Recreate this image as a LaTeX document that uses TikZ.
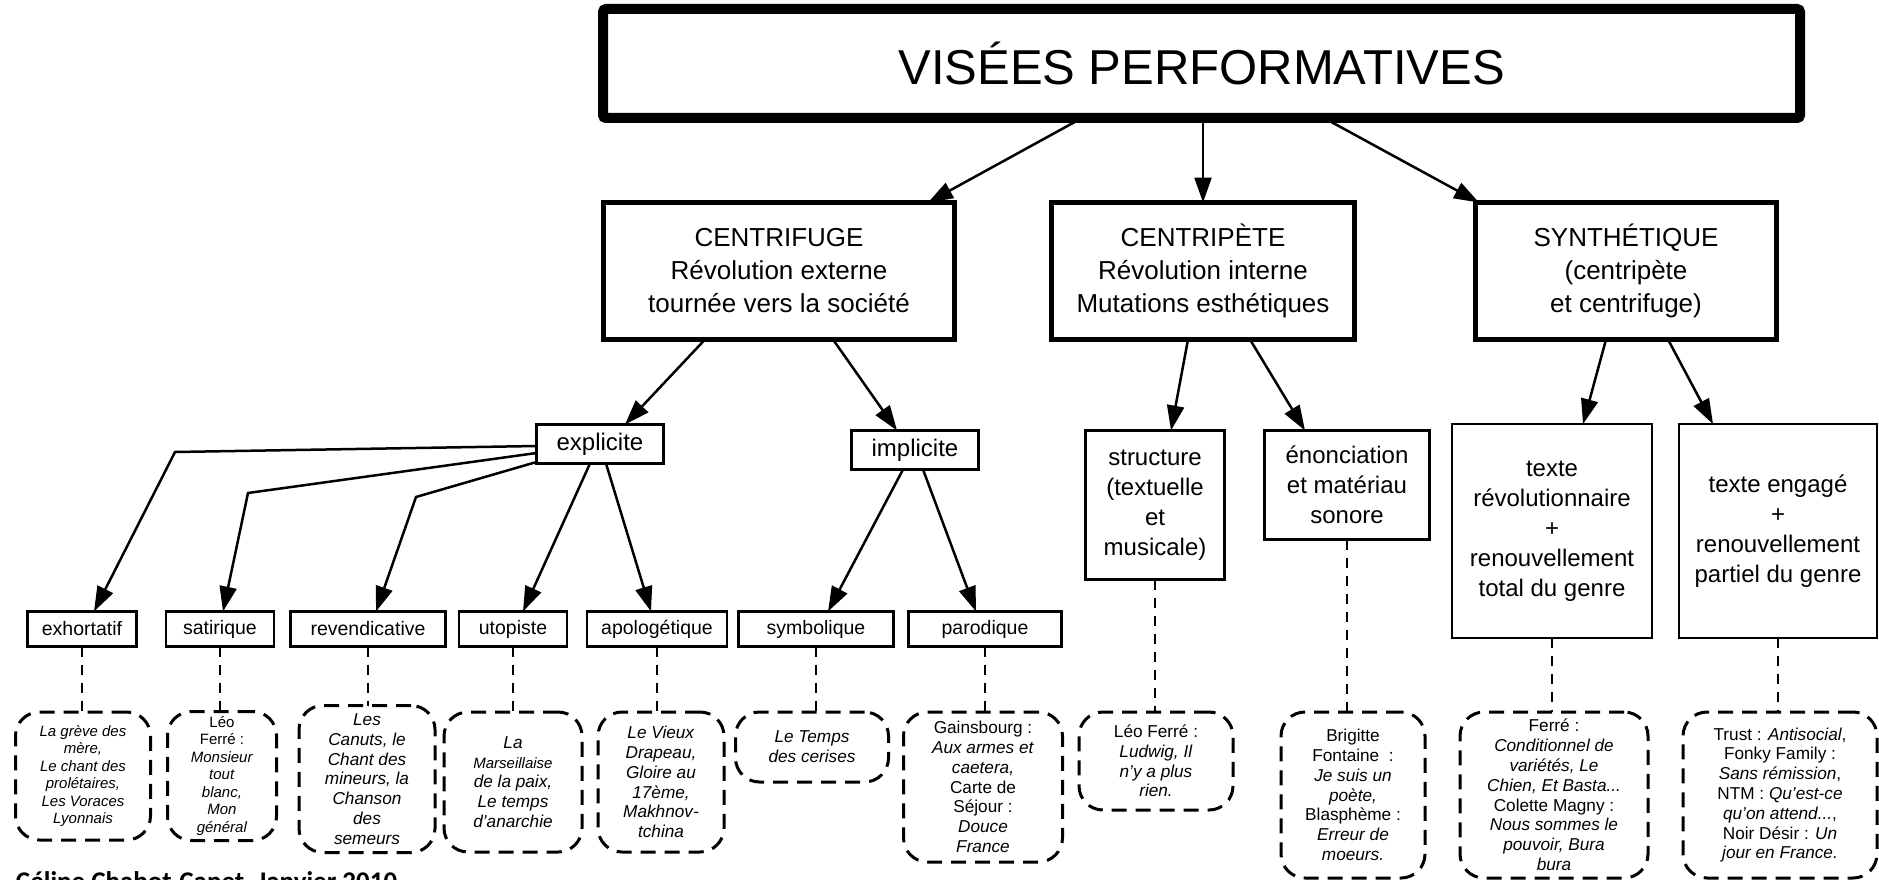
\documentclass[tikz,border=0pt]{standalone}
\usepackage{fontspec}
\setmainfont{Liberation Sans}
\newfontfamily\sigfont{Carlito}
\usetikzlibrary{arrows.meta,calc}
\begin{document}
\begin{tikzpicture}[x=1pt,y=-1pt,
  every node/.style={inner sep=0pt, outer sep=0pt, align=center},
  topbox/.style={draw, line width=10pt, rounded corners=3pt, minimum width=1197pt, minimum height=109pt, font=\fontsize{49}{56}\selectfont},
  mainbox/.style={draw, line width=5pt, minimum height=137pt, font=\fontsize{26}{33}\selectfont},
  midbox/.style={draw, line width=2.5pt, font=\fontsize{24}{30}\selectfont},
  leafbox/.style={draw, line width=2.5pt, minimum height=35pt, font=\fontsize{19.5}{23}\selectfont},
  exbox/.style={draw, dash pattern=on 15pt off 9pt, line width=3pt, rounded corners=24pt},
  exsmall/.style={exbox, font=\fontsize{15}{17.5}\selectfont},
  exlarge/.style={exbox, font=\fontsize{17.2}{19.8}\selectfont},
  arr/.style={line width=2.5pt, -{Triangle[length=25pt,width=17pt]}},
  dline/.style={line width=2pt, dash pattern=on 10pt off 8pt},
]
\useasboundingbox (0,0) rectangle (1879,880);

% top
\node[topbox] (top) at (1201.5,63.5) {VISÉES PERFORMATIVES};

% level 2
\node[mainbox, minimum width=351pt] (cfg) at (779,271) {CENTRIFUGE\\Révolution externe\\tournée vers la société};
\node[mainbox, minimum width=303pt] (cpt) at (1203,271) {CENTRIPÈTE\\Révolution interne\\Mutations esthétiques};
\node[mainbox, minimum width=301pt] (syn) at (1626,271) {SYNTHÉTIQUE\\(centripète\\et centrifuge)};

% level 3
\node[midbox, minimum width=127pt, minimum height=39pt] (expl) at (600,444) {explicite};
\node[midbox, minimum width=127pt, minimum height=39pt] (impl) at (915,450) {implicite};
\node[midbox, minimum width=139pt, minimum height=149pt] (struct) at (1155,505) {structure\\(textuelle\\et\\musicale)};
\node[midbox, minimum width=165pt, minimum height=109pt] (enon) at (1347,485) {énonciation\\et matériau\\sonore};
\node[midbox, minimum width=200pt, minimum height=214pt] (trev) at (1552,531) {texte\\révolutionnaire\\+\\renouvellement\\total du genre};
\node[midbox, minimum width=198pt, minimum height=214pt] (teng) at (1778,531) {texte engagé\\+\\renouvellement\\partiel du genre};

% level 4
\node[leafbox, minimum width=109pt] (exh) at (82,629) {exhortatif};
\node[leafbox, minimum width=108pt] (sat) at (220,629) {satirique};
\node[leafbox, minimum width=155pt] (rev) at (368,629) {revendicative};
\node[leafbox, minimum width=108pt] (uto) at (513,629) {utopiste};
\node[leafbox, minimum width=140pt] (apo) at (657,629) {apologétique};
\node[leafbox, minimum width=155pt] (sym) at (816,629) {symbolique};
\node[leafbox, minimum width=153pt] (par) at (985,629) {parodique};

% examples
\node[exsmall, minimum width=135pt, minimum height=128pt] (b1) at (83,776) {\textit{La grève des}\\\textit{mère,}\\\textit{Le chant des}\\\textit{prolétaires,}\\\textit{Les Voraces}\\\textit{Lyonnais}};
\node[exsmall, minimum width=109pt, minimum height=129pt] (b2) at (222,776) {Léo\\Ferré :\\\textit{Monsieur}\\\textit{tout}\\\textit{blanc,}\\\textit{Mon}\\\textit{général}};
\node[exlarge, minimum width=136pt, minimum height=147pt] (b3) at (367,779) {\textit{Les}\\\textit{Canuts, le}\\\textit{Chant des}\\\textit{mineurs, la}\\\textit{Chanson}\\\textit{des}\\\textit{semeurs}};
\node[exlarge, minimum width=138pt, minimum height=140pt] (b4) at (513,782) {\textit{La}\\{\fontsize{15}{19.8}\selectfont\textit{Marseillaise}}\\\textit{de la paix,}\\\textit{Le temps}\\\textit{d'anarchie}};
\node[exlarge, minimum width=126pt, minimum height=140pt] (b5) at (661,782) {\textit{Le Vieux}\\\textit{Drapeau,}\\\textit{Gloire au}\\\textit{17ème,}\\\textit{Makhnov-}\\\textit{tchina}};
\node[exlarge, minimum width=153pt, minimum height=70pt] (b6) at (812,747) {\textit{Le Temps}\\\textit{des cerises}};
\node[exlarge, minimum width=159pt, minimum height=150pt] (b7) at (983,787) {Gainsbourg :\\\textit{Aux armes et}\\\textit{caetera,}\\Carte de\\Séjour :\\\textit{Douce}\\\textit{France}};
\node[exlarge, minimum width=154pt, minimum height=98pt] (b8) at (1156,761) {Léo Ferré :\\\textit{Ludwig, Il}\\\textit{n'y a plus}\\\textit{rien.}};
\node[exlarge, minimum width=144pt, minimum height=166pt] (b9) at (1353,795) {Brigitte\\Fontaine\ \ :\\\textit{Je suis un}\\\textit{poète,}\\Blasphème :\\\textit{Erreur de}\\\textit{moeurs.}};
\node[exlarge, minimum width=188pt, minimum height=166pt] (b10) at (1554,795) {Ferré :\\\textit{Conditionnel de}\\\textit{variétés, Le}\\\textit{Chien, Et Basta...}\\Colette Magny :\\\textit{Nous sommes le}\\\textit{pouvoir, Bura}\\\textit{bura}};
\node[exlarge, minimum width=194pt, minimum height=166pt] (b11) at (1780,795) {Trust : \textit{Antisocial},\\Fonky Family :\\\textit{Sans rémission},\\NTM : \textit{Qu'est-ce}\\\textit{qu'on attend...},\\Noir Désir : \textit{Un}\\\textit{jour en France.}};

% signature (cut by the lower edge, as in the reference)
\node[font=\sigfont\bfseries\fontsize{27}{30}\selectfont, anchor=base west] (sig) at (16,890) {Céline Chabot-Canet, Janvier 2010};

% arrows top -> level 2
\draw[arr] ($(top.south)+(-119.5,0)$) -- ($(cfg.north)+(149,0)$);
\draw[arr] (top.south -| cpt.north) -- (cpt.north);
\draw[arr] ($(top.south)+(122.5,0)$) -- ($(syn.north)+(-147,0)$);

% level 2 -> level 3
\draw[arr] ($(cfg.south)+(-74,0)$) -- ($(expl.north)+(25,0)$);
\draw[arr] ($(cfg.south)+(54,0)$) -- ($(impl.north)+(-18,0)$);
\draw[arr] ($(cpt.south)+(-15,0)$) -- ($(struct.north)+(16,0)$);
\draw[arr] ($(cpt.south)+(47,0)$) -- ($(enon.north)+(-42,0)$);
\draw[arr] ($(syn.south)+(-20,0)$) -- ($(trev.north)+(31,0)$);
\draw[arr] ($(syn.south)+(42,0)$) -- ($(teng.north)+(-65,0)$);

% explicite -> leaves
\coordinate (kexh) at (175,452);
\coordinate (ksat) at (248,493);
\coordinate (krev) at (416,497);
\draw[arr] ($(expl.west)+(0,2)$) -- (kexh) -- ($(exh.north)+(12,0)$);
\draw[arr] ($(expl.west)+(0,9)$) -- (ksat) -- ($(sat.north)+(3,0)$);
\draw[arr] ($(expl.west)+(0,18)$) -- (krev) -- ($(rev.north)+(8,0)$);
\draw[arr] ($(expl.south)+(-10,0)$) -- ($(uto.north)+(10,0)$);
\draw[arr] ($(expl.south)+(6,0)$) -- ($(apo.north)+(-6,0)$);
% implicite -> leaves
\draw[arr] ($(impl.south)+(-12,0)$) -- ($(sym.north)+(12,0)$);
\draw[arr] ($(impl.south)+(8,0)$) -- ($(par.north)+(-9,0)$);

% dashed links to examples
\draw[dline] (exh.south) -- (exh.south |- b1.north);
\draw[dline] (sat.south) -- (sat.south |- b2.north);
\draw[dline] (rev.south) -- (rev.south |- b3.north);
\draw[dline] (uto.south) -- (uto.south |- b4.north);
\draw[dline] (apo.south) -- (apo.south |- b5.north);
\draw[dline] (sym.south) -- (sym.south |- b6.north);
\draw[dline] (par.south) -- (par.south |- b7.north);
\draw[dline] (struct.south) -- (struct.south |- b8.north);
\draw[dline] (enon.south) -- (enon.south |- b9.north);
\draw[dline] (trev.south) -- (trev.south |- b10.north);
\draw[dline] (teng.south) -- (teng.south |- b11.north);
\end{tikzpicture}
\end{document}
